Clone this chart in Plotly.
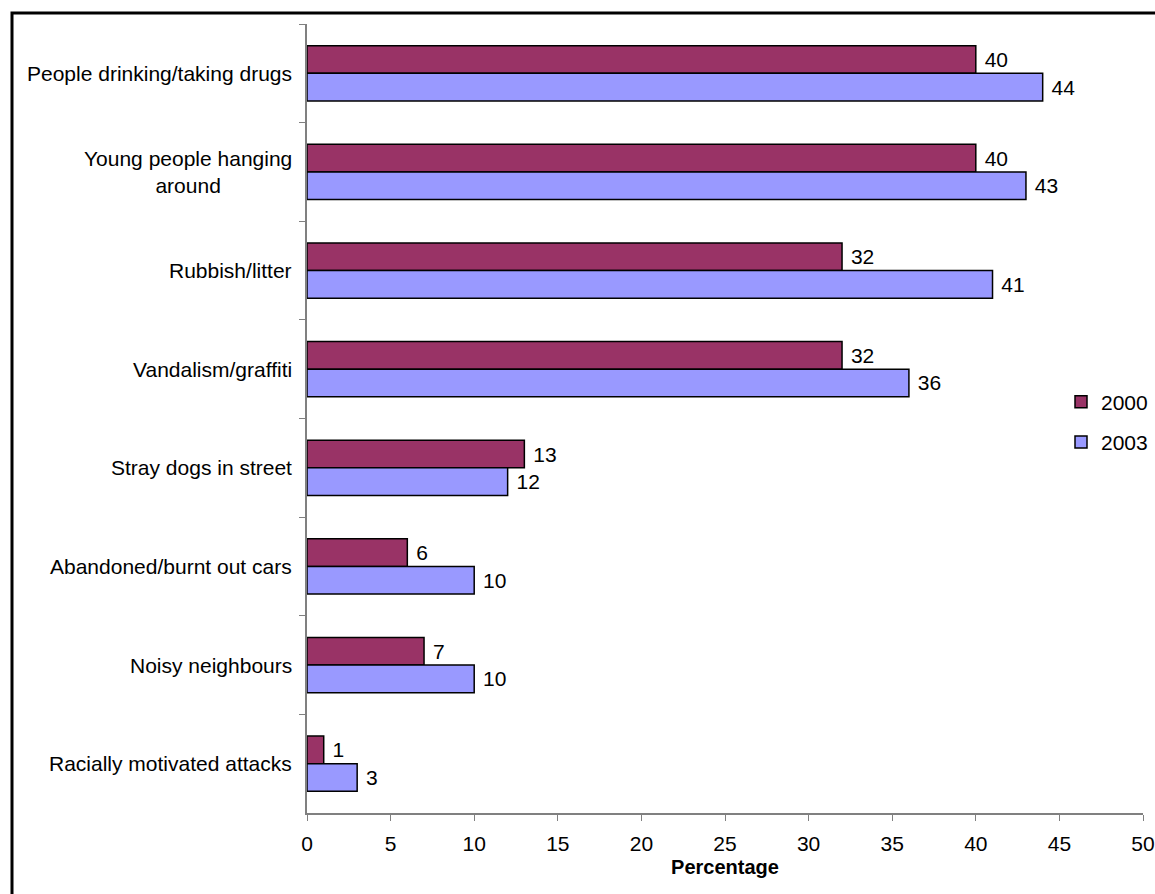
import plotly.graph_objects as go

# Problems reported in the local area, percentage of respondents
categories = [
    "People drinking/taking drugs",
    "Young people hanging<br>around",
    "Rubbish/litter",
    "Vandalism/graffiti",
    "Stray dogs in street",
    "Abandoned/burnt out cars",
    "Noisy neighbours",
    "Racially motivated attacks",
]
values_2000 = [40, 40, 32, 32, 13, 6, 7, 1]
values_2003 = [44, 43, 41, 36, 12, 10, 10, 3]
x_ticks = [0, 5, 10, 15, 20, 25, 30, 35, 40, 45, 50]

FONT = "Liberation Sans, Arial, sans-serif"
W, H = 1155, 894
ML, MR, MT, MB = 307, 12, 24, 81
plot_w = W - ML - MR
plot_h = H - MT - MB

fig = go.Figure()
fig.add_trace(go.Bar(
    name="2000", y=categories, x=values_2000, orientation="h",
    legendgroup="a",
    marker=dict(color="#993366", line=dict(color="black", width=1.5)),
    text=values_2000, texttemplate="\u00a0%{text}", textposition="outside",
    textfont=dict(family=FONT, size=21, color="black"), cliponaxis=False,
))
fig.add_trace(go.Bar(
    name="2003", y=categories, x=values_2003, orientation="h",
    legendgroup="b",
    marker=dict(color="#9999FF", line=dict(color="black", width=1.5)),
    text=values_2003, texttemplate="\u00a0%{text}", textposition="outside",
    textfont=dict(family=FONT, size=21, color="black"), cliponaxis=False,
))

# Category labels, centred line by line and right-aligned against the axis
annotations = [
    dict(text=c, x=0, xref="paper", y=c, yref="y", xanchor="right",
         yanchor="middle", align="center", xshift=-13, showarrow=False,
         font=dict(family=FONT, size=21, color="black"))
    for c in categories
]

def px_x(px):
    return (px - ML) / plot_w

def px_y(py):
    return (H - MB - py) / plot_h

# Outer chart frame (right and bottom edges run off the page)
fig.add_shape(type="rect", xref="paper", yref="paper",
              x0=px_x(12), x1=px_x(1175), y0=px_y(915), y1=px_y(13),
              line=dict(color="black", width=3), fillcolor="rgba(0,0,0,0)")

fig.update_layout(
    width=W, height=H,
    margin=dict(l=ML, r=MR, t=MT, b=MB, autoexpand=False),
    paper_bgcolor="white", plot_bgcolor="white",
    barmode="group", bargap=0.44, bargroupgap=0,
    font=dict(family=FONT, size=21, color="black"),
    showlegend=True,
    legend=dict(x=px_x(1061), y=px_y(422), xanchor="left", yanchor="middle",
                traceorder="grouped", tracegroupgap=10, itemwidth=30,
                bgcolor="rgba(0,0,0,0)",
                font=dict(family=FONT, size=21, color="black")),
    annotations=annotations,
    xaxis=dict(
        range=[0, 50], tickvals=x_ticks, ticktext=[str(t) for t in x_ticks],
        automargin=False, ticklabelstandoff=5,
        showgrid=False, zeroline=False, showline=True, linecolor="#808080",
        linewidth=1.5, ticks="outside", ticklen=6, tickcolor="#808080",
        tickfont=dict(family=FONT, size=21, color="black"),
        title=dict(text="<b>Percentage</b>", standoff=6,
                   font=dict(family=FONT, size=20, color="black")),
    ),
    yaxis=dict(
        type="category", categoryorder="array", categoryarray=categories,
        range=[7.5, -0.5], showticklabels=False, tickson="boundaries",
        automargin=False,
        ticks="outside", ticklen=6, tickcolor="#808080",
        showgrid=False, zeroline=False, showline=True, linecolor="#808080",
        linewidth=1.5,
    ),
)

fig.write_html("out.html")
